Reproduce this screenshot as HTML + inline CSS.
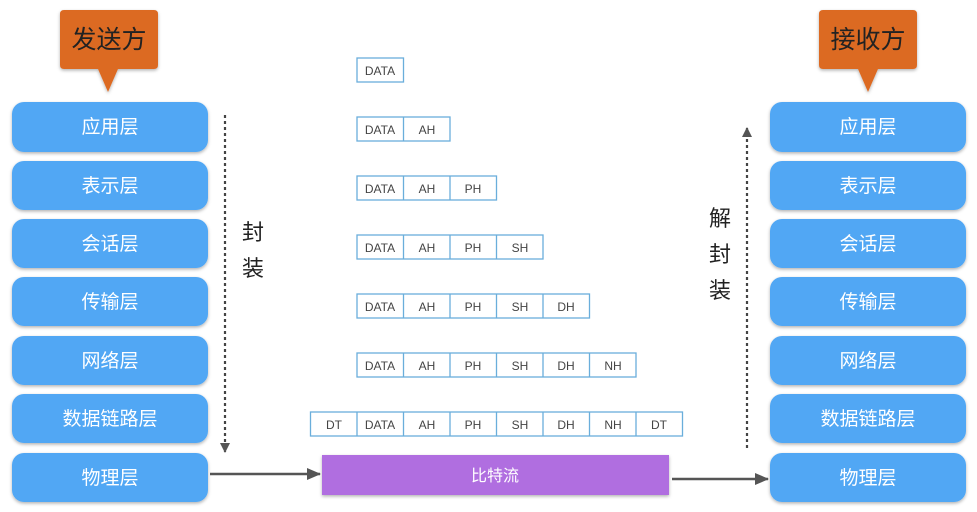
<!DOCTYPE html>
<html><head><meta charset="utf-8"><style>
html,body{margin:0;padding:0;background:#fff;}
svg{display:block;}
text{font-family:"Liberation Sans","Noto Sans CJK SC",sans-serif;}
</style></head><body>
<svg width="977" height="512" viewBox="0 0 977 512" xmlns="http://www.w3.org/2000/svg">
<defs>
<filter id="sh" x="-10%" y="-20%" width="120%" height="150%"><feDropShadow dx="0" dy="1.5" stdDeviation="1.5" flood-color="#000" flood-opacity="0.3"/></filter>
<marker id="ah" markerWidth="10" markerHeight="10" refX="9" refY="5" orient="auto" markerUnits="userSpaceOnUse"><path d="M0,0 L10,5 L0,10 z" fill="#555"/></marker>
<marker id="ah2" markerWidth="14" markerHeight="12" refX="13" refY="6" orient="auto" markerUnits="userSpaceOnUse"><path d="M0,0 L14,6 L0,12 z" fill="#555"/></marker>
</defs>
<g filter="url(#sh)">
<path d="M64,10 H154 Q158,10 158,14 V65 Q158,69 154,69 H118 L108,92 L98,69 H64 Q60,69 60,65 V14 Q60,10 64,10 Z" fill="#dc6a24"/>
<path d="M823,10 H913 Q917,10 917,14 V65 Q917,69 913,69 H878 L868,92 L858,69 H823 Q819,69 819,65 V14 Q819,10 823,10 Z" fill="#dc6a24"/>
</g>
<text x="109" y="48" font-size="25" text-anchor="middle" fill="#222">发送方</text>
<text x="868" y="48" font-size="25" text-anchor="middle" fill="#222">接收方</text>
<g filter="url(#sh)" fill="#51a7f4">
<rect x="12" y="102" width="196" height="50" rx="12"/>
<rect x="12" y="161" width="196" height="49" rx="12"/>
<rect x="12" y="219" width="196" height="49" rx="12"/>
<rect x="12" y="277" width="196" height="49" rx="12"/>
<rect x="12" y="336" width="196" height="49" rx="12"/>
<rect x="12" y="394" width="196" height="49" rx="12"/>
<rect x="12" y="453" width="196" height="49" rx="12"/>
<rect x="770" y="102" width="196" height="50" rx="12"/>
<rect x="770" y="161" width="196" height="49" rx="12"/>
<rect x="770" y="219" width="196" height="49" rx="12"/>
<rect x="770" y="277" width="196" height="49" rx="12"/>
<rect x="770" y="336" width="196" height="49" rx="12"/>
<rect x="770" y="394" width="196" height="49" rx="12"/>
<rect x="770" y="453" width="196" height="49" rx="12"/>
</g>
<g font-size="19" fill="#fff" text-anchor="middle">
<text x="110" y="133">应用层</text><text x="110" y="192">表示层</text><text x="110" y="250">会话层</text><text x="110" y="308">传输层</text><text x="110" y="367">网络层</text><text x="110" y="425">数据链路层</text><text x="110" y="484">物理层</text>
<text x="868" y="133">应用层</text><text x="868" y="192">表示层</text><text x="868" y="250">会话层</text><text x="868" y="308">传输层</text><text x="868" y="367">网络层</text><text x="868" y="425">数据链路层</text><text x="868" y="484">物理层</text>
</g>
<line x1="225" y1="115" x2="225" y2="452" stroke="#444" stroke-width="2.2" stroke-dasharray="3,3" marker-end="url(#ah)"/>
<line x1="747" y1="448" x2="747" y2="128" stroke="#444" stroke-width="2.2" stroke-dasharray="3,3" marker-end="url(#ah)"/>
<g font-size="22" fill="#222" text-anchor="middle">
<text x="253" y="240">封</text><text x="253" y="276">装</text>
<text x="720" y="226">解</text><text x="720" y="262">封</text><text x="720" y="298">装</text>
</g>
<g fill="#fff" stroke="#6aaedb" stroke-width="1.3">
<rect x="357" y="58" width="46.5" height="24"/>
<rect x="357" y="117" width="93" height="24"/>
<rect x="357" y="176" width="139.5" height="24"/>
<rect x="357" y="235" width="186" height="24"/>
<rect x="357" y="294" width="232.5" height="24"/>
<rect x="357" y="353" width="279" height="24"/>
<rect x="310.5" y="412" width="372" height="24"/>
</g>
<g stroke="#6aaedb" stroke-width="1.3">
<line x1="403.5" y1="117" x2="403.5" y2="141"/>
<line x1="403.5" y1="176" x2="403.5" y2="200"/><line x1="450" y1="176" x2="450" y2="200"/>
<line x1="403.5" y1="235" x2="403.5" y2="259"/><line x1="450" y1="235" x2="450" y2="259"/><line x1="496.5" y1="235" x2="496.5" y2="259"/>
<line x1="403.5" y1="294" x2="403.5" y2="318"/><line x1="450" y1="294" x2="450" y2="318"/><line x1="496.5" y1="294" x2="496.5" y2="318"/><line x1="543" y1="294" x2="543" y2="318"/>
<line x1="403.5" y1="353" x2="403.5" y2="377"/><line x1="450" y1="353" x2="450" y2="377"/><line x1="496.5" y1="353" x2="496.5" y2="377"/><line x1="543" y1="353" x2="543" y2="377"/><line x1="589.5" y1="353" x2="589.5" y2="377"/>
<line x1="357" y1="412" x2="357" y2="436"/><line x1="403.5" y1="412" x2="403.5" y2="436"/><line x1="450" y1="412" x2="450" y2="436"/><line x1="496.5" y1="412" x2="496.5" y2="436"/><line x1="543" y1="412" x2="543" y2="436"/><line x1="589.5" y1="412" x2="589.5" y2="436"/><line x1="636" y1="412" x2="636" y2="436"/>
</g>
<g font-size="12" fill="#444" text-anchor="middle">
<text x="380" y="75">DATA</text>
<text x="380" y="134">DATA</text><text x="427" y="134">AH</text>
<text x="380" y="193">DATA</text><text x="427" y="193">AH</text><text x="473" y="193">PH</text>
<text x="380" y="252">DATA</text><text x="427" y="252">AH</text><text x="473" y="252">PH</text><text x="520" y="252">SH</text>
<text x="380" y="311">DATA</text><text x="427" y="311">AH</text><text x="473" y="311">PH</text><text x="520" y="311">SH</text><text x="566" y="311">DH</text>
<text x="380" y="370">DATA</text><text x="427" y="370">AH</text><text x="473" y="370">PH</text><text x="520" y="370">SH</text><text x="566" y="370">DH</text><text x="613" y="370">NH</text>
<text x="334" y="429">DT</text><text x="380" y="429">DATA</text><text x="427" y="429">AH</text><text x="473" y="429">PH</text><text x="520" y="429">SH</text><text x="566" y="429">DH</text><text x="613" y="429">NH</text><text x="659" y="429">DT</text>
</g>
<rect x="322" y="455" width="347" height="40" fill="#b06ee0" filter="url(#sh)"/>
<text x="495" y="481" font-size="16" fill="#fff" text-anchor="middle">比特流</text>
<line x1="210" y1="474" x2="320" y2="474" stroke="#555" stroke-width="2.5" marker-end="url(#ah2)"/>
<line x1="672" y1="479" x2="768" y2="479" stroke="#555" stroke-width="2.5" marker-end="url(#ah2)"/>
</svg>
</body></html>
